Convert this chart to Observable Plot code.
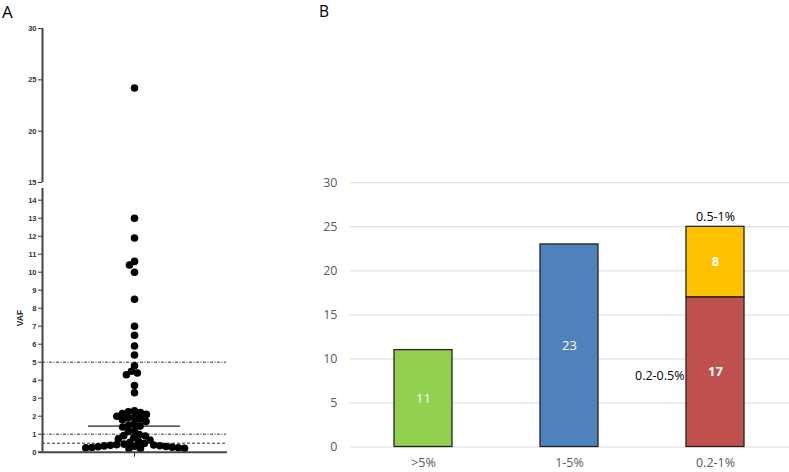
<!DOCTYPE html>
<html><head><meta charset="utf-8">
<script src="https://cdn.jsdelivr.net/npm/d3@7"></script>
<script src="https://cdn.jsdelivr.net/npm/@observablehq/plot@0.6"></script>
<style>
body{margin:0;background:#fff;}
#root{position:relative;width:789px;height:472px;overflow:hidden;background:#fff;}
#root svg{overflow:visible;}
</style></head><body><div id="root"></div>
<script>
// ---- Panel A data: VAF (%) of each variant ----
const vafAbove5 = [24.2, 13.0, 11.9, 10.6, 10.4, 10.0, 8.5, 7.0, 6.5, 5.9, 5.4];
const vaf1to5 = [4.8, 4.5, 4.4, 4.3, 3.7, 3.3, 2.3, 2.25, 2.2, 2.15, 2.1, 2.0, 1.95, 1.9, 1.85, 1.8, 1.7, 1.6, 1.5, 1.45, 1.4, 1.2, 1.15];
const vaf05to1 = [0.98, 0.92, 0.9, 0.82, 0.75, 0.68, 0.6, 0.55];
const vaf02to05 = [0.48, 0.45, 0.42, 0.4, 0.38, 0.36, 0.35, 0.33, 0.32, 0.3, 0.28, 0.26, 0.25, 0.24, 0.22, 0.2, 0.2];
const medianVaf = 1.45;
const thresholdsDashDot = [5, 1];
const thresholdsDashed = [0.5];
const upperTicks = [15, 20, 25, 30];
const lowerTicks = [0,1,2,3,4,5,6,7,8,9,10,11,12,13,14];

// ---- Panel B data ----
const barCategories = [">5%", "1-5%", "0.2-1%"];
const segCategory = [">5%", "1-5%", "0.2-1%", "0.2-1%"];
const segGroup = [">5%", "1-5%", "0.2-0.5%", "0.5-1%"];
const segValue = [11, 23, 17, 8];
const segBold = [false, false, true, true];
const barYTicks = [0, 5, 10, 15, 20, 25, 30];
const segColors = ["#92d050", "#4f81bd", "#c0504d", "#ffc000"];

const allVaf = [...vafAbove5, ...vaf1to5, ...vaf05to1, ...vaf02to05];
const upperVals = allVaf.filter(v => v >= 15);
const lowerVals = allVaf.filter(v => v < 15);
const segs = segValue.map((v, i) => ({cat: segCategory[i], grp: segGroup[i], value: v, bold: segBold[i]}));

const root = document.getElementById("root");
function place(el, left, top) {
  el.style.position = "absolute"; el.style.left = left + "px"; el.style.top = top + "px";
  root.appendChild(el);
}
const aFont = {fontFamily: "'Liberation Sans', Arial, sans-serif", fontSize: "7.5px", fontWeight: "bold", color: "#333", background: "transparent"};

// Upper segment (15–30)
const upper = Plot.plot({
  width: 230, height: 186, marginLeft: 42, marginRight: 4, marginTop: 28, marginBottom: 4,
  style: aFont,
  x: {domain: [0, 1], axis: null},
  y: {domain: [15, 30]},
  marks: [
    Plot.axisY({ticks: upperTicks, tickSize: 4, tickPadding: 2, label: null, fontWeight: "bold"}),
    Plot.ruleX([0], {stroke: "#444", strokeWidth: 2}),
    Plot.dot(upperVals, Plot.dodgeX({anchor: "middle", y: d => d, r: 3.8, fill: "black", stroke: null}))
  ]
});
place(upper, 0, 0);

// Lower segment (0–14.x)
const lower = Plot.plot({
  width: 230, height: 286, marginLeft: 42, marginRight: 4, marginTop: 2, marginBottom: 20.3,
  style: aFont,
  x: {domain: [0, 1]},
  y: {domain: [0, 14.65]},
  marks: [
    Plot.axisY({ticks: lowerTicks, tickSize: 4, tickPadding: 2, label: null, fontWeight: "bold"}),
    Plot.axisX({ticks: [0.5], tickSize: 5, tickFormat: () => "", label: null, strokeWidth: 1}),
    Plot.ruleY(thresholdsDashDot, {stroke: "#333", strokeWidth: 1, strokeDasharray: "3,1.5,1,1.5"}),
    Plot.ruleY(thresholdsDashed, {stroke: "#333", strokeWidth: 1, strokeDasharray: "3,2"}),
    Plot.ruleY([medianVaf], {x1: 0.25, x2: 0.75, stroke: "#222", strokeWidth: 1.3}),
    Plot.dot(lowerVals, Plot.dodgeX({anchor: "middle", padding: -1.4, y: d => d, r: 3.8, fill: "black", stroke: null})),
    Plot.ruleX([0], {stroke: "#444", strokeWidth: 2}),
    Plot.ruleY([0], {x1: -0.02, x2: 1.005, stroke: "#444", strokeWidth: 2})
  ]
});
place(lower, 0, 186);

const vaf = document.createElement("div");
vaf.textContent = "VAF";
Object.assign(vaf.style, {fontFamily: "'Liberation Sans', Arial, sans-serif", fontSize: "8.5px", fontWeight: "bold", color: "#222",
  transform: "rotate(-90deg)", transformOrigin: "center", width: "30px", textAlign: "center", lineHeight: "10px"});
place(vaf, 5, 313);

// Panel B
const bFont = {fontFamily: "'Open Sans', sans-serif", fontSize: "12.5px", color: "#595959", background: "transparent"};
const right = Plot.plot({
  width: 489, height: 472, marginLeft: 50, marginRight: 0, marginTop: 182.3, marginBottom: 25.5,
  style: bFont,
  x: {domain: barCategories, paddingInner: 0.6, paddingOuter: 0.3},
  y: {domain: [0, 30]},
  color: {domain: segGroup, range: segColors},
  marks: [
    Plot.gridY({ticks: barYTicks, stroke: "#d9d9d9", strokeOpacity: 1, strokeWidth: 1}),
    Plot.axisY({ticks: barYTicks, tickSize: 0, tickPadding: 13, label: null}),
    Plot.axisX({tickSize: 0, tickPadding: 11, label: null}),
    Plot.barY(segs, {x: "cat", y: "value", fill: "grp", stroke: "#222", strokeWidth: 1.3}),
    Plot.text(segs, Plot.stackY({x: "cat", y: "value", text: d => d.bold ? null : String(d.value), fill: "white", fontSize: 13})),
    Plot.text(segs, Plot.stackY({x: "cat", y: "value", text: d => d.bold ? String(d.value) : null, fill: "white", fontSize: 13, fontWeight: "bold"})),
    Plot.text(segs, Plot.stackY2({x: "cat", y: "value", text: d => d.grp === "0.5-1%" ? d.grp : null, fill: "black", fontSize: 12.5, dy: -10})),
    Plot.text(segs, Plot.stackY({x: "cat", y: "value", text: d => d.grp === "0.2-0.5%" ? d.grp : null, fill: "black", fontSize: 12.5, textAnchor: "end", dx: -31, dy: 4}))
  ]
});
place(right, 300, 0);

const lblA = document.createElement("div"); lblA.textContent = "A";
Object.assign(lblA.style, {fontFamily: "'Open Sans', sans-serif", fontSize: "17px", color: "#000", lineHeight: "20px"});
place(lblA, 2, 2);
const lblB = document.createElement("div"); lblB.textContent = "B";
Object.assign(lblB.style, {fontFamily: "'Open Sans', sans-serif", fontSize: "15.5px", color: "#000", lineHeight: "18px"});
place(lblB, 319, 2);
</script></body></html>
